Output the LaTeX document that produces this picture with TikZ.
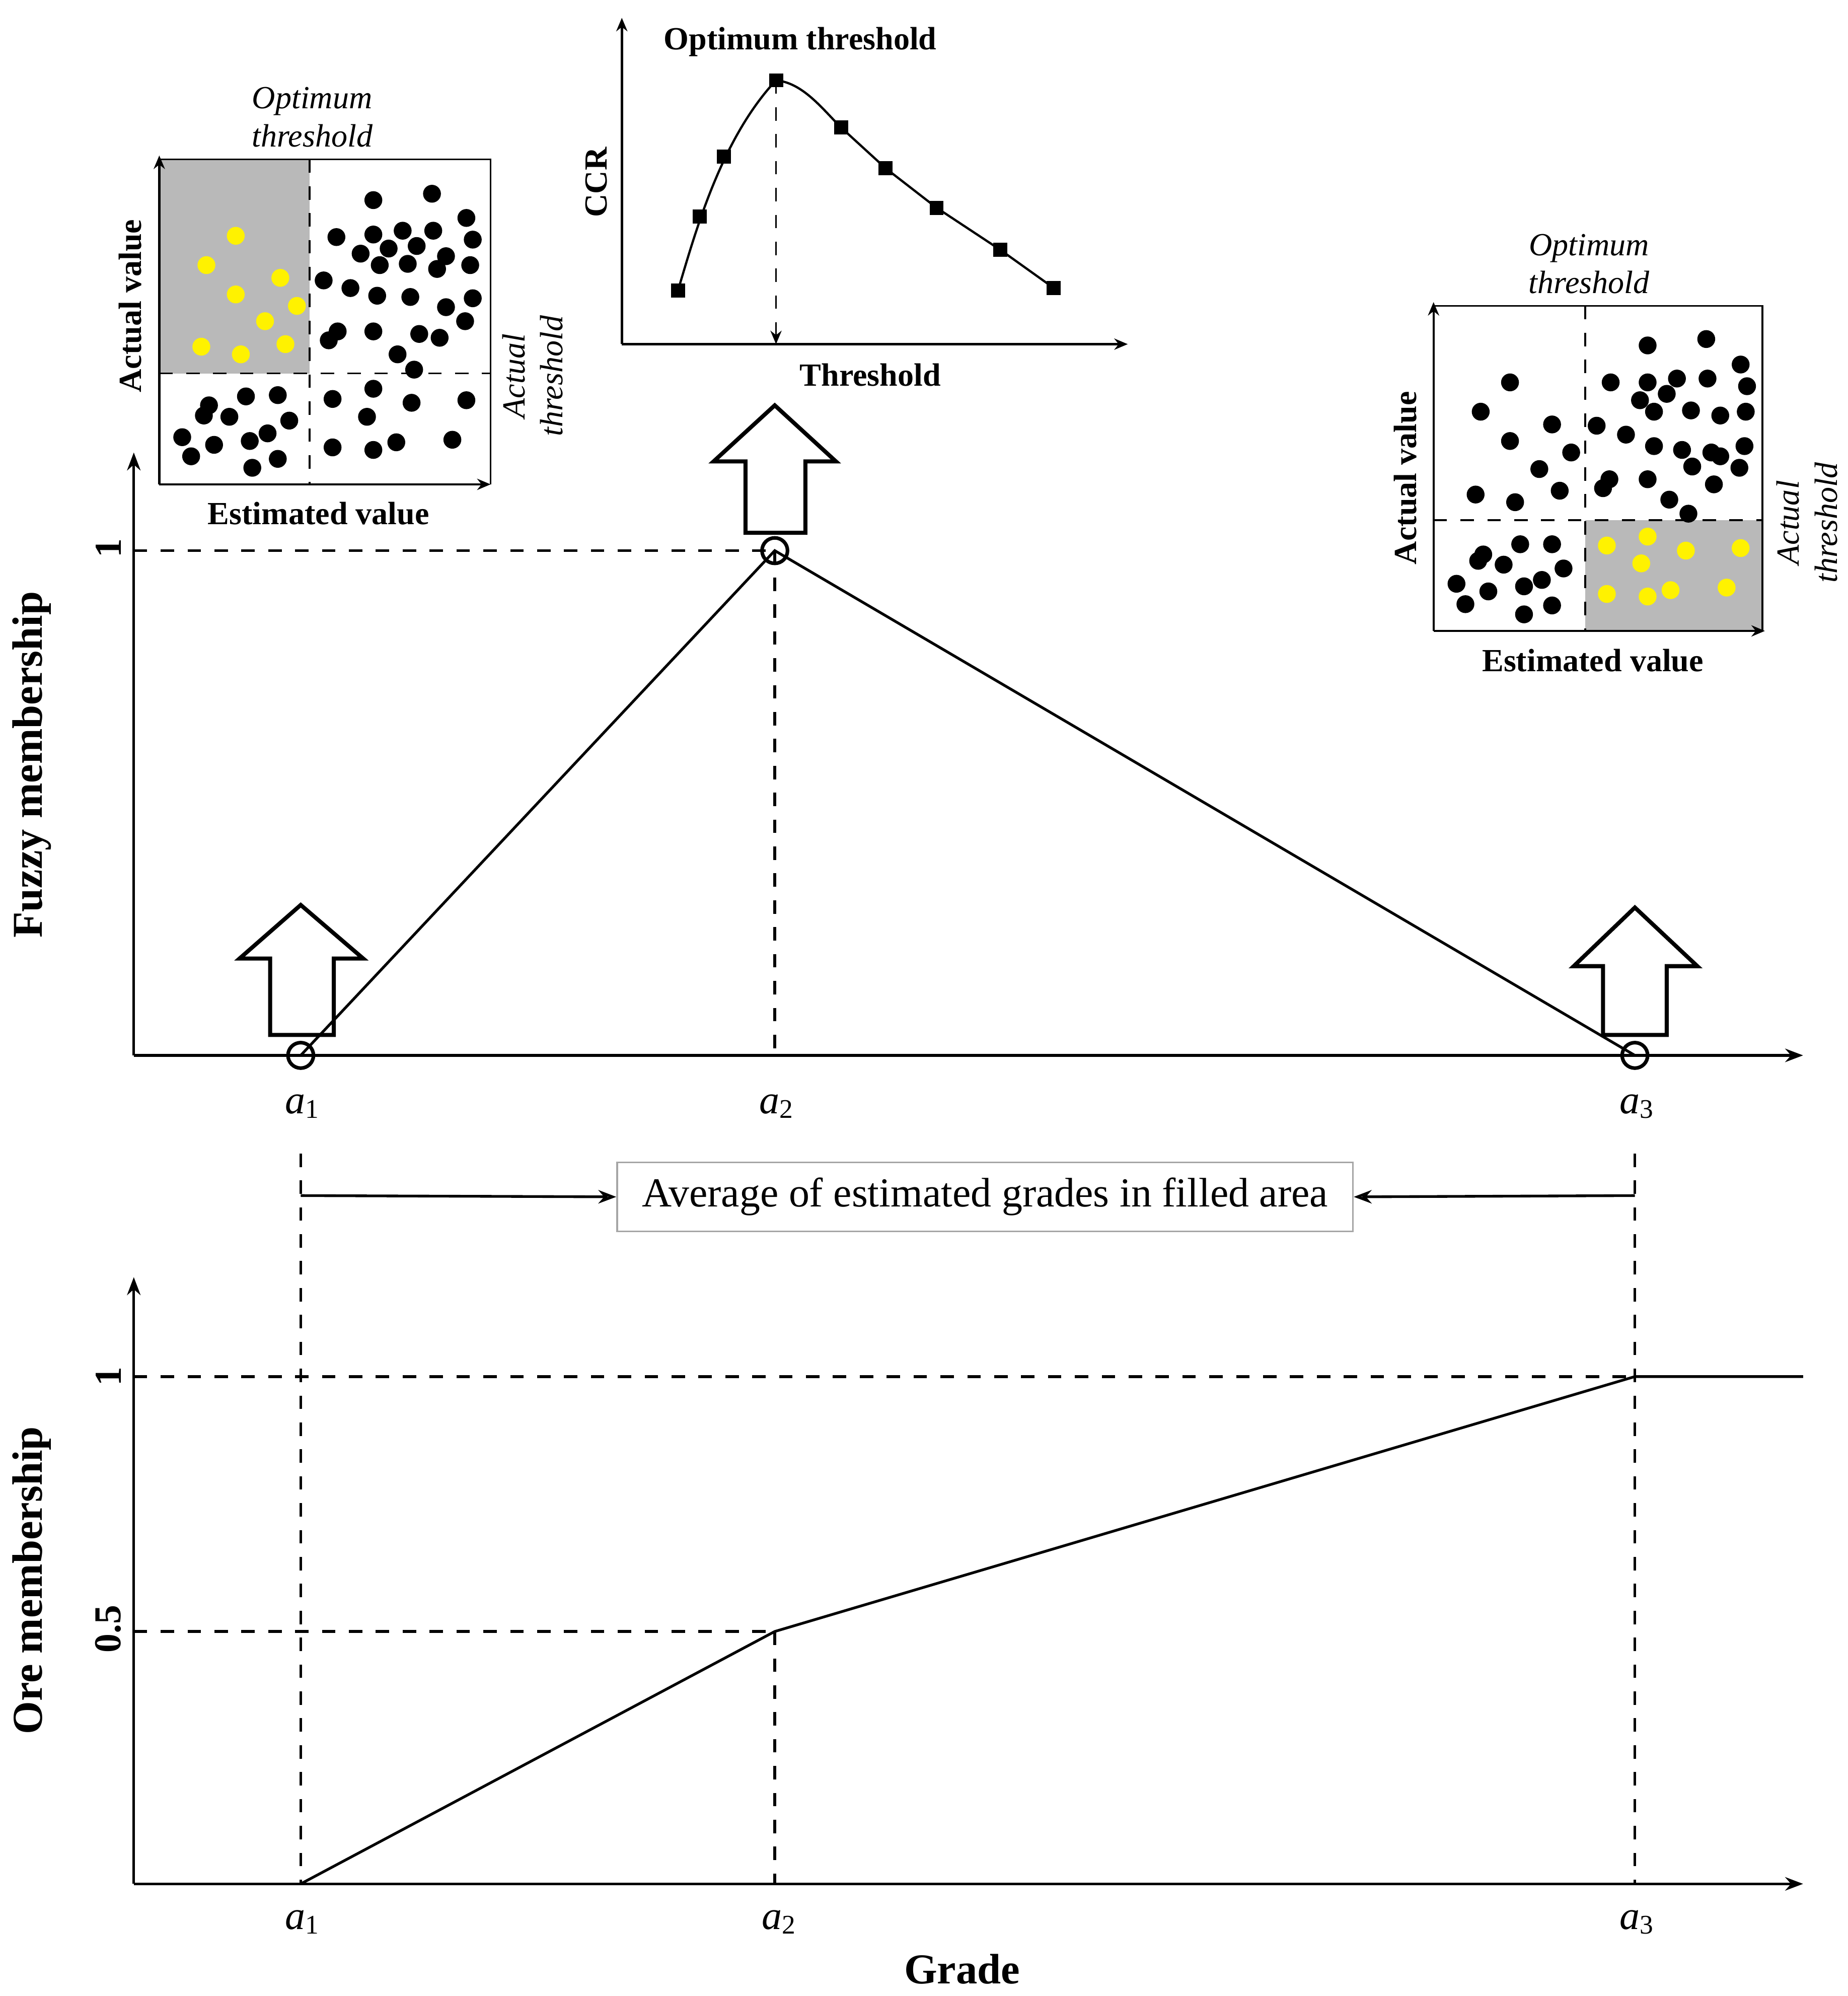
\documentclass[tikz,border=0pt]{standalone}
\usepackage{fontspec}
\setmainfont{Liberation Serif}
\usetikzlibrary{arrows.meta}
\begin{document}
\begin{tikzpicture}[x=0.01cm,y=-0.01cm,
 ax/.style={line width=0.6pt,-{Stealth[length=4pt,width=3pt]}},
 axs/.style={line width=0.5pt,-{Stealth[length=3pt,width=2.5pt]}},
 dsh/.style={dashed,line width=0.6pt},
 dsm/.style={dashed,line width=0.4pt},
 ln/.style={line width=0.6pt},
 hol/.style={draw,fill=white,line width=0.9pt},
 bd/.style={circle,fill=black,inner sep=0pt,minimum size=0.14cm},
 yd/.style={circle,fill=yellow,inner sep=0pt,minimum size=0.14cm},
 sq/.style={fill=black,inner sep=0pt,minimum size=0.11cm},
 lab/.style={font=\fontsize{9.5}{11}\selectfont\bfseries},
 slab/.style={font=\fontsize{7.2}{8.5}\selectfont\bfseries},
 ilab/.style={font=\fontsize{7.2}{8.5}\selectfont\itshape,align=center},
 alab/.style={font=\fontsize{9}{10}\selectfont\itshape},
 num/.style={font=\fontsize{8.5}{10}\selectfont\bfseries,rotate=90}]
\useasboundingbox (0,0) rectangle (1450,1566);
% ===== top chart =====
\coordinate (o1) at (105,828);
\coordinate (ytop1) at (105,355);
\coordinate (xend1) at (1415,828);
\draw[ax] (o1) -- (ytop1);
\draw[ax] (o1) -- (xend1);
\node[num] (one1) at (85,430) {1};
\coordinate (A1) at (236,828); \coordinate (A2) at (608,432); \coordinate (A3) at (1283,828);
\coordinate (y1) at (105,432); \coordinate (A2b) at (608,828);
\draw[dsh] (y1) -- (A2);
\draw[dsh] (A2) -- (A2b);
% hollow arrows
\draw[hol] (212,812) -- (212,752) -- (188,752) -- (236,710) -- (285,752) -- (262,752) -- (262,812) -- cycle;
\draw[hol] (585,418) -- (585,362) -- (560,362) -- (608,318) -- (656,362) -- (632,362) -- (632,418) -- cycle;
\draw[hol] (1258,812) -- (1258,758) -- (1235,758) -- (1283,712) -- (1332,758) -- (1308,758) -- (1308,812) -- cycle;
\draw[ln] (A1) -- (A2) -- (A3);
\node[circle,draw,line width=0.8pt,minimum size=0.2cm,inner sep=0pt] (c1) at (A1) {};
\node[circle,draw,line width=0.8pt,minimum size=0.2cm,inner sep=0pt] (c2) at (A2) {};
\node[circle,draw,line width=0.8pt,minimum size=0.2cm,inner sep=0pt] (c3) at (A3) {};
\node[alab] (ta1) at (238,868) {a\textsubscript{\upshape 1}};
\node[alab] (ta2) at (610,868) {a\textsubscript{\upshape 2}};
\node[alab] (ta3) at (1285,868) {a\textsubscript{\upshape 3}};
\node[lab,rotate=90] (fm) at (25,600) {Fuzzy membership};
% ===== middle =====
\coordinate (m1) at (236,905); \coordinate (m1b) at (236,1478);
\coordinate (m3) at (1283,905); \coordinate (m3b) at (1283,1478);
\draw[dsh] (m1) -- (m1b);
\draw[dsh] (m3) -- (m3b);
\node[draw=gray!70,line width=0.4pt,minimum width=5.77cm,minimum height=0.54cm,inner sep=0pt,font=\fontsize{9.2}{11}\selectfont] (avg) at (773,939) {Average of estimated grades in filled area};
\coordinate (ar1) at (236,938); \coordinate (ar3) at (1283,938);
\draw[ln,-{Stealth[length=4pt,width=3pt,open]}] (ar1) -- (avg.west);
\draw[ln,-{Stealth[length=4pt,width=3pt,open]}] (ar3) -- (avg.east);
% ===== bottom chart =====
\coordinate (o2) at (105,1478);
\draw[ax] (o2) -- (105,1002);
\draw[ax] (o2) -- (1415,1478);
\node[num] (one2) at (85,1080) {1};
\node[num] (half) at (85,1278) {0.5};
\draw[dsh] (105,1080) -- (1283,1080);
\draw[dsh] (105,1280) -- (608,1280);
\draw[dsh] (608,1280) -- (608,1478);
\draw[ln] (236,1478) -- (608,1280) -- (1283,1080) -- (1415,1080);
\node[alab] (tb1) at (238,1508) {a\textsubscript{\upshape 1}};
\node[alab] (tb2) at (612,1508) {a\textsubscript{\upshape 2}};
\node[alab] (tb3) at (1285,1508) {a\textsubscript{\upshape 3}};
\node[lab] (gr) at (755,1545) {Grade};
\node[lab,rotate=90] (om) at (25,1240) {Ore membership};
% ===== inset 1 =====
\fill[gray!55] (125,125) rectangle (243,293);
\draw[line width=0.4pt] (125,125) -- (385,125) -- (385,380);
\draw[axs] (125,380) -- (125,122);
\draw[axs] (125,380) -- (385,380);
\draw[dsm] (243,125) -- (243,380);
\draw[dsm] (125,293) -- (385,293);
\foreach \p in {(185,185),(162,208),(220,218),(185,231),(233,240),(208,252),(158,272),(189,278),(224,270)} \node[yd] at \p {};
\foreach \p in {(293,157),(339,152),(366,171),(264,186),(293,184),(316,181),(340,181),(371,188),(283,199),(305,195),(327,193),(350,201),(254,220),(275,226),(298,208),(320,207),(343,211),(369,208),(296,232),(322,233),(350,241),(371,234),(265,260),(293,260),(312,278),(329,262),(345,265),(365,252),(258,267),(325,290),
(164,318),(193,311),(218,310),(180,327),(160,326),(143,343),(168,349),(196,346),(227,330),(150,358),(198,367),(218,360),(210,340),
(261,313),(293,305),(323,316),(366,314),(288,327),(261,351),(293,353),(311,347),(355,345)} \node[bd] at \p {};
\node[ilab] (ot1) at (245,92) {Optimum\\threshold};
\node[slab,rotate=90] (av1) at (102,240) {Actual value};
\node[ilab,rotate=90] (at1) at (418,295) {Actual\\threshold};
\node[slab] (ev1) at (250,403) {Estimated value};
% ===== inset 2 =====
\draw[axs] (488,270) -- (488,14);
\draw[axs] (488,270) -- (885,270);
\draw[line width=0.5pt] (532,228) .. controls (545,185) and (565,110) .. (609,63) .. controls (630,65) and (645,85) .. (660,100) -- (695,132) -- (735,163) -- (785,196) -- (827,226);
\draw[dsm,-{Stealth[length=3pt,width=2.5pt]}] (609,63) -- (609,270);
\foreach \p in {(532,228),(549,170),(568,123),(609,63),(660,100),(695,132),(735,163),(785,196),(827,226)} \node[sq] at \p {};
\node[slab] (ot2) at (628,33) {Optimum threshold};
\node[slab,rotate=90] (ccr) at (468,143) {CCR};
\node[slab] (th2) at (683,294) {Threshold};
% ===== inset 3 =====
\fill[gray!55] (1244,408) rectangle (1383,495);
\draw[line width=0.4pt] (1125,240) -- (1383,240) -- (1383,495);
\draw[axs] (1125,495) -- (1125,237);
\draw[axs] (1125,495) -- (1385,495);
\draw[dsm] (1244,240) -- (1244,495);
\draw[dsm] (1125,408) -- (1383,408);
\foreach \p in {(1185,300),(1162,323),(1218,333),(1185,346),(1233,355),(1208,368),(1158,388),(1189,394),(1224,385),
(1293,271),(1339,266),(1366,286),(1264,300),(1293,300),(1316,297),(1340,297),(1371,303),(1287,314),(1308,309),(1327,322),(1350,326),(1253,334),(1276,341),(1298,323),(1320,353),(1343,355),(1369,350),(1298,350),(1350,358),(1370,323),(1263,376),(1293,376),(1310,392),(1328,366),(1345,380),(1365,367),(1258,383),(1325,403),
(1164,435),(1193,427),(1218,427),(1180,443),(1160,440),(1143,458),(1168,464),(1196,460),(1227,446),(1150,474),(1196,482),(1218,475),(1210,455)} \node[bd] at \p {};
\foreach \p in {(1261,428),(1293,421),(1323,432),(1366,430),(1288,442),(1261,466),(1293,468),(1311,463),(1355,461)} \node[yd] at \p {};
\node[ilab] (ot3) at (1247,207) {Optimum\\threshold};
\node[slab,rotate=90] (av3) at (1103,375) {Actual value};
\node[ilab,rotate=90] (at3) at (1418,410) {Actual\\threshold};
\node[slab] (ev3) at (1250,518) {Estimated value};
\end{tikzpicture}
\end{document}
